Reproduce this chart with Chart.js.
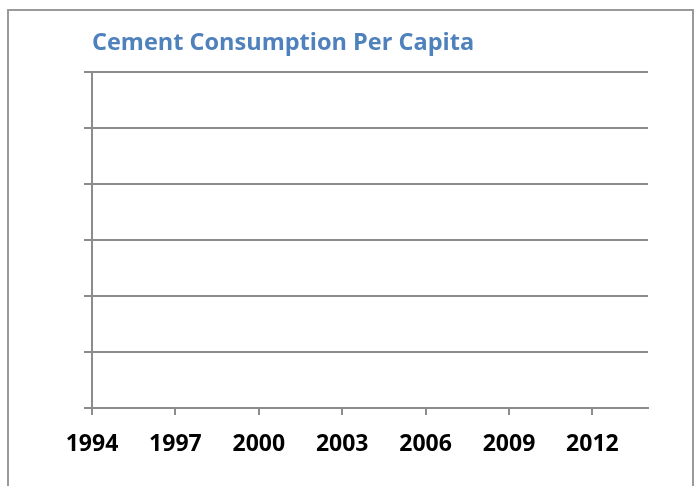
<!DOCTYPE html>
<html>
<head>
<meta charset="utf-8">
<script src="https://cdn.jsdelivr.net/npm/chart.js@4/dist/chart.umd.min.js"></script>
<style>
  html, body { margin: 0; padding: 0; background: #fff; }
  #wrap { position: relative; width: 700px; height: 486px; }
</style>
</head>
<body>
<div id="wrap"><canvas id="cement"></canvas></div>
<script>
// Cement consumption per capita - the source chart has no plotted values
const years = [];
for (let y = 1994; y <= 2014; y++) years.push(String(y));
const consumption = years.map(() => null);
const yTicks = [0, 1, 2, 3, 4, 5, 6];

const GRID = '#8c8c8c';

// outer frame around the chart, like the excel chart border
const frame = {
  id: 'frame',
  beforeDraw(chart) {
    const c = chart.ctx;
    c.save();
    c.strokeStyle = '#9a9a9a';
    c.lineWidth = 2;
    c.strokeRect(8, 10, 685, 500);
    c.restore();
  }
};

new Chart(document.getElementById('cement'), {
  type: 'line',
  data: {
    labels: years,
    datasets: [{
      label: 'Cement Consumption Per Capita',
      data: consumption,
      borderColor: '#4f81bd',
      pointRadius: 0
    }]
  },
  options: {
    responsive: true,
    maintainAspectRatio: false,
    animation: false,
    layout: { padding: { left: 84, right: 52, top: 0, bottom: 0 } },
    plugins: {
      legend: { display: false },
      tooltip: { enabled: false },
      title: {
        display: true,
        text: 'Cement Consumption Per Capita',
        align: 'start',
        fullSize: false,
        color: '#4f81bd',
        font: { family: '"Open Sans", sans-serif', size: 23.5, weight: 'bold', lineHeight: 1.2 },
        padding: { top: 29, bottom: 14.8 }
      }
    },
    scales: {
      x: {
        offset: false,
        grid: {
          drawOnChartArea: false,
          tickLength: 7,
          lineWidth: 2,
          tickColor: ctx => (ctx.index % 3 === 0 ? GRID : 'rgba(0,0,0,0)')
        },
        border: { color: GRID, width: 2 },
        ticks: {
          autoSkip: false,
          maxRotation: 0,
          padding: 16,
          color: '#000',
          font: { family: '"Open Sans", sans-serif', size: 23, weight: 'bold' },
          callback: function(v, i) { return i % 3 === 0 ? this.getLabelForValue(v) : ''; }
        },
        afterFit: s => { s.height = 78; }
      },
      y: {
        min: yTicks[0],
        max: yTicks[yTicks.length - 1],
        ticks: { display: false, stepSize: 1 },
        grid: { color: GRID, lineWidth: 2, tickLength: 8 },
        border: { color: GRID, width: 2 }
      }
    }
  },
  plugins: [frame]
});
</script>
</body>
</html>
